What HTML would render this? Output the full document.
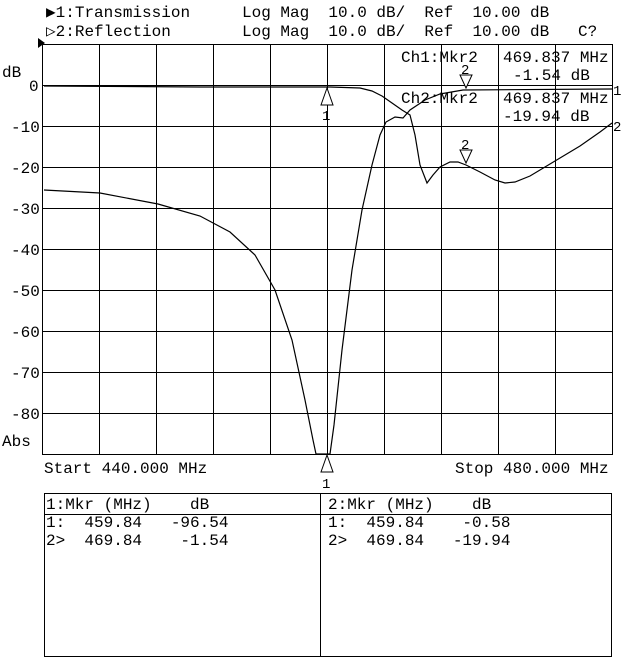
<!DOCTYPE html>
<html><head><style>
html,body{margin:0;padding:0;background:#fff}
svg{display:block}
text{font-family:"Liberation Mono","DejaVu Sans Mono",monospace;font-size:16px;fill:#000;white-space:pre}
</style></head><body>
<svg width="640" height="659" viewBox="0 0 640 659" xmlns="http://www.w3.org/2000/svg" xml:space="preserve">
<rect width="640" height="659" fill="#fff"/>
<text x="46" y="17">▶1:Transmission</text>
<text x="242" y="17">Log Mag  10.0 dB/  Ref  10.00 dB</text>
<text x="46" y="36">▷2:Reflection</text>
<text x="242" y="36">Log Mag  10.0 dB/  Ref  10.00 dB   C?</text>
<polygon points="38,38 45,43 38,48" fill="#000"/>
<g stroke="#000" stroke-width="1" fill="none">
<rect x="42.5" y="44.5" width="570" height="410"/>
<path d="M99.5 44V455M156.5 44V455M213.5 44V455M270.5 44V455M327.5 44V455M384.5 44V455M441.5 44V455M498.5 44V455M555.5 44V455"/>
<path d="M42 85.5H612M42 126.5H612M42 167.5H612M42 208.5H612M42 249.5H612M42 290.5H612M42 331.5H612M42 372.5H612M42 413.5H612"/>
</g>
<text x="2" y="77">dB</text>
<text x="29" y="91">0</text>
<text x="11" y="132">-10</text>
<text x="11" y="173">-20</text>
<text x="11" y="214">-30</text>
<text x="11" y="255">-40</text>
<text x="11" y="296">-50</text>
<text x="11" y="337">-60</text>
<text x="11" y="378">-70</text>
<text x="11" y="419">-80</text>
<text x="2" y="446">Abs</text>
<text x="401" y="62">Ch1:Mkr2</text>
<text x="503" y="62">469.837 MHz</text>
<text x="513" y="80">-1.54 dB</text>
<text x="401" y="103">Ch2:Mkr2</text>
<text x="503" y="103">469.837 MHz</text>
<text x="503" y="121">-19.94 dB</text>
<g stroke="#000" stroke-width="1.2" fill="none">
<polyline points="44,190 100,193 158,204 200,216 230,232 255,255 275,290 292,340 305,400 313,440 316,454 330,454 334,425 342,350 352,270 362,210 372,165 380,135 386,122 395,117 403,118 410,110 425,100 440,94 463,90 612,89"/>
<polyline points="44,86 200,87 330,87 360,88 372,91 382,96 392,103 402,110 410,115 415,135 420,165 427,183 433,175 440,167 450,162 458,162 466,165 480,172 495,180 505,183 515,182 530,176 555,161 580,146 600,132 612,123"/>
</g>
<text x="613" y="95" style="font-size:14px">1</text>
<text x="613" y="131" style="font-size:14px">2</text>
<g stroke="#000" fill="#fff" stroke-width="1">
<polygon points="327,88 321,105 333,105"/>
<polygon points="327,455 321,472 333,472"/>
<polygon points="460,75 472,75 466,88"/>
<polygon points="460,150 472,150 466,163"/>
</g>
<text x="322" y="120" style="font-size:14px">1</text>
<text x="322" y="488" style="font-size:14px">1</text>
<text x="461" y="74" style="font-size:14px">2</text>
<text x="461" y="149" style="font-size:14px">2</text>
<text x="44" y="473">Start 440.000 MHz</text>
<text x="455" y="473">Stop 480.000 MHz</text>
<g stroke="#000" fill="none">
<rect x="44.5" y="493.5" width="567" height="163"/>
<path d="M44 514.5H612M320.5 493V657"/>
</g>
<text x="46" y="509">1:Mkr (MHz)    dB</text>
<text x="46" y="527">1:  459.84   -96.54</text>
<text x="46" y="545">2&gt;  469.84    -1.54</text>
<text x="328" y="509">2:Mkr (MHz)    dB</text>
<text x="328" y="527">1:  459.84    -0.58</text>
<text x="328" y="545">2&gt;  469.84   -19.94</text>
</svg>
</body></html>
